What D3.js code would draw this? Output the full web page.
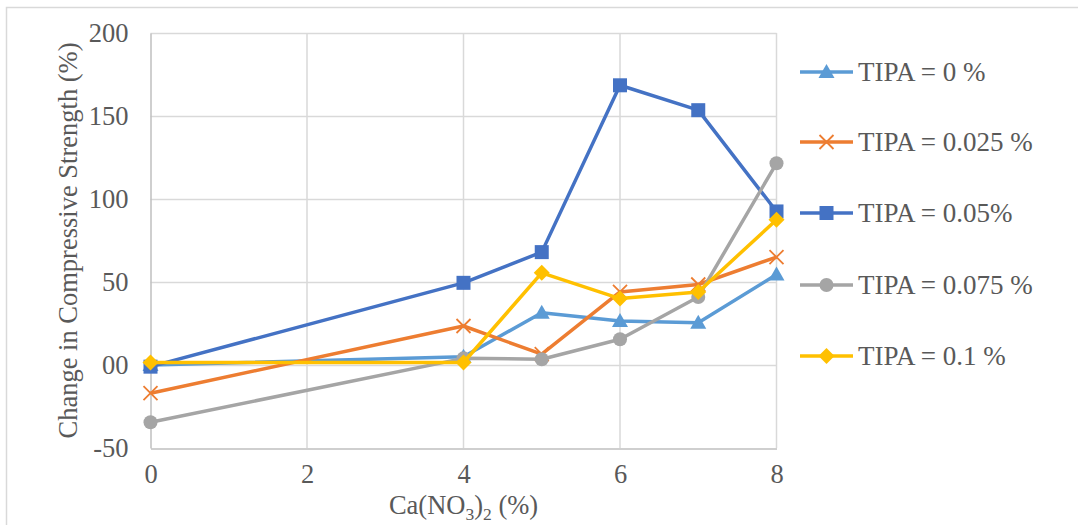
<!DOCTYPE html>
<html>
<head>
<meta charset="utf-8">
<script src="https://cdn.jsdelivr.net/npm/d3@7"></script>
<style>
	body { margin: 0; background: #fff; }
	svg text { font-family: "Liberation Serif", "Times New Roman", serif !important; fill: #595959; }
</style>
</head>
<body>
<div id="chart-area"></div>
<script>

// Data
let xValues = [0, 4, 5, 6, 7, 8];
let seriesNames = ["TIPA = 0 %", "TIPA = 0.025 %", "TIPA = 0.05%", "TIPA = 0.075 %", "TIPA = 0.1 %"];
let tipa0 = [0, 5, 31.5, 26.5, 25.5, 54.5];
let tipa025 = [-17, 23.5, 6.5, 44, 48.5, 65];
let tipa05 = [-1, 49.5, 68, 168.5, 153.5, 92.5];
let tipa075 = [-34.5, 4, 3.5, 15.5, 41, 121.5];
let tipa1 = [1.5, 1.5, 55.5, 40, 44, 87.5];
let yTicks = [-50, 0, 50, 100, 150, 200];
let yTickLabels = ["-50", "00", "50", "100", "150", "200"];
let xTicks = [0, 2, 4, 6, 8];

let allSeries = [tipa0, tipa025, tipa05, tipa075, tipa1];
let colors = ["#5B9BD5", "#ED7D31", "#4472C4", "#A5A5A5", "#FFC000"];
let markers = ["triangle", "cross", "square", "circle", "diamond"];

let totalWidth = 1078, totalHeight = 525;
let margin = {top: 33, right: 302, bottom: 77, left: 150};
var width = totalWidth - margin.left - margin.right;
var height = totalHeight - margin.top - margin.bottom;

let root = d3.select("#chart-area")
	.append("svg")
	.attr("width", totalWidth)
	.attr("height", totalHeight);

// chart border
root.append("rect")
	.attr("x", 6.5)
	.attr("y", 7.5)
	.attr("width", 1100)
	.attr("height", 600)
	.attr("fill", "none")
	.attr("stroke", "#d9d9d9")
	.attr("stroke-width", 1.5);

let svg = root.append("g")
	.attr("transform", "translate(" + margin.left + "," + margin.top + ")");

/** Scales */
let xScale = d3.scaleLinear().domain([0, 8]).range([0.5, 626.5]);
let yScale = d3.scaleLinear().domain([-50, 200]).range([415, 0]);

/** Grid */
svg.selectAll(".hgrid")
	.data(yTicks.filter(function(d) { return d !== -50; }))
	.enter()
	.append("line")
	.attr("x1", xScale(0))
	.attr("x2", xScale(8))
	.attr("y1", function(d) { return Math.round(yScale(d)) + 0.5; })
	.attr("y2", function(d) { return Math.round(yScale(d)) + 0.5; })
	.attr("stroke", "#d9d9d9")
	.attr("stroke-width", 1.5);

svg.selectAll(".vgrid")
	.data(xTicks.filter(function(d) { return d !== 0; }))
	.enter()
	.append("line")
	.attr("x1", function(d) { return xScale(d); })
	.attr("x2", function(d) { return xScale(d); })
	.attr("y1", yScale(200))
	.attr("y2", yScale(-50))
	.attr("stroke", "#d9d9d9")
	.attr("stroke-width", 1.5);

/** Axes */
let xAxis = d3.axisBottom(xScale).tickValues(xTicks).tickSize(0).tickPadding(16);
let gx = svg.append("g")
	.attr("class", "axis xAxis")
	.attr("transform", "translate(0," + (Math.round(yScale(-50)) + 0.5) + ")")
	.call(xAxis);
gx.select(".domain").attr("stroke", "#bfbfbf").attr("stroke-width", 1.5);
gx.selectAll("text").style("font-size", "26.5px").attr("fill", "#595959");

let yAxis = d3.axisLeft(yScale).tickValues(yTicks).tickSize(0).tickPadding(22)
	.tickFormat(function(d, i) { return yTickLabels[i]; });
let gy = svg.append("g")
	.attr("class", "axis yAxis")
	.attr("transform", "translate(0.5,0)")
	.call(yAxis);
gy.select(".domain").attr("stroke", "#bfbfbf").attr("stroke-width", 1.5);
gy.selectAll("text").style("font-size", "26.5px").attr("fill", "#595959");

// axis titles
svg.append("text")
	.attr("transform", "translate(-73," + (height / 2) + ") rotate(-90)")
	.attr("text-anchor", "middle")
	.style("font-size", "26.5px")
	.text("Change in Compressive Strength (%)");

let xt = svg.append("text")
	.attr("x", xScale(4))
	.attr("y", height + 66)
	.attr("text-anchor", "middle")
	.style("font-size", "26.5px");
xt.append("tspan").text("Ca(NO");
xt.append("tspan").text("3").attr("dy", 6).style("font-size", "17.5px");
xt.append("tspan").text(")").attr("dy", -6);
xt.append("tspan").text("2").attr("dy", 6).style("font-size", "17.5px");
xt.append("tspan").text(" (%)").attr("dy", -6);

/** Markers */
function drawMarker(g, type, color) {
	if (type === "triangle") {
		g.append("path").attr("d", "M0,-8L8,6L-8,6Z").attr("fill", color);
	} else if (type === "cross") {
		g.append("path").attr("d", "M-7,-7L7,7M-7,7L7,-7")
			.attr("stroke", color).attr("stroke-width", 1.8).attr("fill", "none");
	} else if (type === "square") {
		g.append("rect").attr("x", -7).attr("y", -7).attr("width", 14).attr("height", 14).attr("fill", color);
	} else if (type === "circle") {
		g.append("circle").attr("r", 7).attr("fill", color);
	} else if (type === "diamond") {
		g.append("path").attr("d", "M0,-8L8,0L0,8L-8,0Z").attr("fill", color);
	}
}

/** Lines */
let line = d3.line()
	.x(function(d) { return xScale(d.x); })
	.y(function(d) { return yScale(d.y); });

allSeries.forEach(function(values, i) {
	let pts = values.map(function(v, j) { return {x: xValues[j], y: v}; });
	svg.append("path")
		.datum(pts)
		.attr("d", line)
		.attr("fill", "none")
		.attr("stroke", colors[i])
		.attr("stroke-width", 3.5)
		.attr("stroke-linejoin", "round");
	svg.selectAll(".m" + i)
		.data(pts)
		.enter()
		.append("g")
		.attr("transform", function(d) { return "translate(" + xScale(d.x) + "," + yScale(d.y) + ")"; })
		.each(function() { drawMarker(d3.select(this), markers[i], colors[i]); });
});

/** Legend */
let legendY = [72, 142, 213, 285, 356];
let legend = root.selectAll(".legend")
	.data(seriesNames)
	.enter()
	.append("g")
	.attr("transform", function(d, i) { return "translate(800," + legendY[i] + ")"; });

legend.append("line")
	.attr("x1", 0).attr("x2", 53)
	.attr("y1", 0).attr("y2", 0)
	.attr("stroke", function(d, i) { return colors[i]; })
	.attr("stroke-width", 3.5);

legend.each(function(d, i) {
	let g = d3.select(this).append("g").attr("transform", "translate(26.5,0)");
	drawMarker(g, markers[i], colors[i]);
});

legend.append("text")
	.attr("x", 58)
	.attr("y", 9)
	.style("font-size", "27px")
	.text(function(d) { return d; });

</script>
</body>
</html>
